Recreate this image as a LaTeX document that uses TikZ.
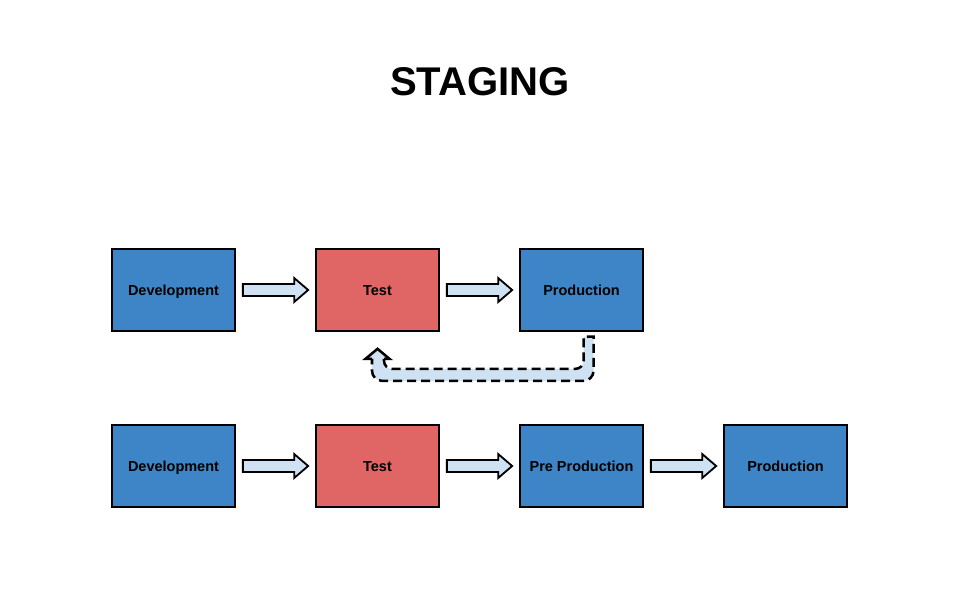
\documentclass[tikz,border=0pt]{standalone}
\usepackage{fontspec}
\setmainfont{Liberation Sans}
\usetikzlibrary{calc,positioning}
\definecolor{stageblue}{HTML}{3D85C6}
\definecolor{stagered}{HTML}{E06666}
\definecolor{arrowfill}{HTML}{CFE2F3}

\tikzset{
  stage/.style={draw=black, line width=1.2pt, minimum width=3.075cm, minimum height=2.05cm,
    inner sep=0pt, text height=7.4pt, text depth=0pt,
    font=\fontsize{10.3}{12}\selectfont\bfseries},
  devbox/.style={stage, fill=stageblue},
  testbox/.style={stage, fill=stagered},
  blockarrow/.style={draw=black, line width=1.3pt, fill=arrowfill, line join=miter},
  backarrow/.style={draw=black, line width=1.8pt, dash pattern=on 0.225cm off 0.125cm},
  backhead/.style={draw=black, line width=1.8pt, line join=miter}
}

% block arrow from the east side of #1 to the west side of #2
\newcommand{\blockarrow}[2]{%
  \coordinate (s) at ($(#1.east)+(0.175,0)$);
  \coordinate (e) at ($(#2.west)+(-0.175,0)$);
  \draw[blockarrow] ($(s)+(0,0.15)$) -- ($(e)+(-0.35,0.15)$) -- ($(e)+(-0.35,0.3)$)
    -- (e) -- ($(e)+(-0.35,-0.3)$) -- ($(e)+(-0.35,-0.15)$) -- ($(s)+(0,-0.15)$) -- cycle;
}

\begin{document}
\begin{tikzpicture}
  \useasboundingbox (0,0) rectangle (24,15);
  \def\gap{1.983cm}

  % ---------- title ----------
  \node[font=\fontsize{28.5}{32}\selectfont\bfseries] (title) at (12,12.95) {STAGING};

  % ---------- three stages ----------
  \node[devbox] (dev1) at (4.3375,7.75) {Development};
  \node[testbox, right=\gap of dev1] (test1) {Test};
  \node[devbox, right=\gap of test1] (prod1) {Production};

  \blockarrow{dev1}{test1}
  \blockarrow{test1}{prod1}

  % way back from production to test
  \coordinate (p1) at ($(prod1.south)+(0.3,-0.12)$);
  \coordinate (p2) at ($(prod1.south)+(0.3,-1.225)$);
  \coordinate (p3) at ($(test1.south)+(-0.1375,-1.225)$);
  \coordinate (p4) at ($(test1.south)+(-0.1375,-0.675)$);
  \coordinate (p5) at ($(test1.south)+(-0.3,-0.675)$);
  \coordinate (tip) at ($(test1.south)+(0,-0.425)$);
  \coordinate (p6) at ($(test1.south)+(0.3,-0.675)$);
  \coordinate (p7) at ($(test1.south)+(0.1625,-0.675)$);
  \coordinate (p8) at ($(test1.south)+(0.1625,-0.925)$);
  \coordinate (p9) at ($(prod1.south)+(0.05,-0.925)$);
  \coordinate (p10) at ($(prod1.south)+(0.05,-0.12)$);

  \fill[arrowfill] (p1) [rounded corners=0.25cm] -- (p2) -- (p3) [sharp corners] -- (p4)
    -- (p5) -- (tip) -- (p6) -- (p7) [rounded corners=0.2cm] -- (p8) -- (p9)
    [sharp corners] -- (p10) -- cycle;
  \draw[backarrow] (p7) [rounded corners=0.2cm] -- (p8) -- (p9) [sharp corners] -- (p10)
    -- (p1) [rounded corners=0.25cm] -- (p2) -- (p3) [sharp corners] -- (p4);
  \draw[backhead] (p4) -- (p5) -- (tip) -- (p6) -- (p7);

  % ---------- four stages ----------
  \node[devbox] (dev2) at (4.3375,3.35) {Development};
  \node[testbox, right=\gap of dev2] (test2) {Test};
  \node[devbox, right=\gap of test2] (pre2) {Pre Production};
  \node[devbox, right=\gap of pre2] (prod2) {Production};

  \blockarrow{dev2}{test2}
  \blockarrow{test2}{pre2}
  \blockarrow{pre2}{prod2}
\end{tikzpicture}
\end{document}
